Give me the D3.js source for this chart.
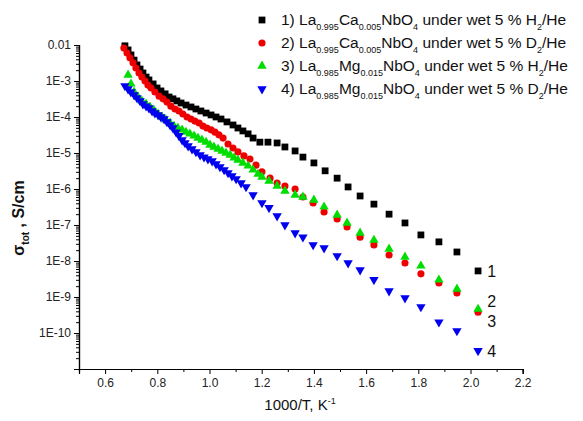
<!DOCTYPE html>
<html><head><meta charset="utf-8">
<script src="https://cdn.jsdelivr.net/npm/d3@7"></script>
<style>
body{margin:0;background:#fff;}
svg{display:block;font-family:"Liberation Sans",Arial,sans-serif;}
</style></head>
<body><svg id="c" width="583" height="421"></svg>
<script>
// 1000/T (K^-1) and total conductivity (S/cm)
const x1 = [0.676,0.688,0.699,0.711,0.722,0.734,0.745,0.757,0.768,0.784,0.799,0.814,0.830,0.845,0.860,0.875,0.891,0.910,0.929,0.948,0.967,0.987,1.006,1.025,1.044,1.067,1.090,1.109,1.128,1.148,1.167,1.193,1.224,1.259,1.289,1.328,1.358,1.400,1.443,1.489,1.531,1.577,1.630,1.688,1.749,1.810,1.879,1.948,2.029];
const y1 = [9.5e-3,7.3e-3,5.3e-3,3.8e-3,2.8e-3,2.15e-3,1.67e-3,1.29e-3,1.07e-3,8.3e-4,6.4e-4,5.3e-4,4.4e-4,3.6e-4,3.2e-4,2.8e-4,2.45e-4,2.15e-4,1.9e-4,1.67e-4,1.47e-4,1.29e-4,1.14e-4,1.0e-4,8.8e-5,7.3e-5,6.0e-5,4.95e-5,4.1e-5,3.4e-5,2.6e-5,2.0e-5,2.0e-5,1.9e-5,1.47e-5,1.14e-5,7.7e-6,5.3e-6,3.2e-6,2.0e-6,1.14e-6,6.4e-7,3.8e-7,2.0e-7,1.14e-7,5.3e-8,3.4e-8,1.78e-8,5.3e-9];

const x2 = [0.672,0.684,0.695,0.707,0.718,0.730,0.741,0.753,0.764,0.776,0.791,0.807,0.822,0.837,0.852,0.868,0.883,0.898,0.914,0.929,0.944,0.960,0.975,0.990,1.006,1.021,1.036,1.052,1.071,1.090,1.109,1.132,1.155,1.178,1.201,1.232,1.259,1.289,1.328,1.358,1.397,1.439,1.489,1.527,1.577,1.630,1.688,1.749,1.810,1.879,1.948,2.029];
const y2 = [8.2e-3,6.0e-3,4.4e-3,3.2e-3,2.3e-3,1.67e-3,1.29e-3,1.0e-3,7.7e-4,6.4e-4,4.95e-4,3.8e-4,3.2e-4,2.6e-4,2.0e-4,1.67e-4,1.47e-4,1.21e-4,1.0e-4,8.8e-5,7.7e-5,6.8e-5,5.6e-5,4.95e-5,4.4e-5,3.8e-5,3.2e-5,2.6e-5,1.78e-5,1.38e-5,1.07e-5,8.3e-6,6.8e-6,4.6e-6,3.0e-6,2.0e-6,1.47e-6,1.21e-6,1.0e-6,6.0e-7,4.1e-7,2.3e-7,1.47e-7,8.8e-8,4.6e-8,2.8e-8,1.47e-8,8.8e-9,4.4e-9,2.45e-9,1.29e-9,3.8e-10];

const x3 = [0.688,0.699,0.711,0.726,0.741,0.757,0.772,0.787,0.803,0.818,0.833,0.849,0.864,0.879,0.895,0.910,0.925,0.941,0.956,0.971,0.987,1.002,1.017,1.033,1.048,1.063,1.079,1.094,1.109,1.128,1.148,1.167,1.186,1.201,1.228,1.259,1.289,1.328,1.358,1.400,1.439,1.489,1.527,1.577,1.630,1.688,1.749,1.810,1.879,1.948,2.029];
const y3 = [1.47e-3,8.3e-4,4.95e-4,3.6e-4,2.8e-4,2.3e-4,1.9e-4,1.56e-4,1.21e-4,1.0e-4,8.3e-5,6.8e-5,5.6e-5,4.95e-5,4.4e-5,3.8e-5,3.4e-5,3.0e-5,2.6e-5,2.3e-5,2.0e-5,1.67e-5,1.47e-5,1.29e-5,1.14e-5,1.0e-5,8.8e-6,7.3e-6,6.4e-6,5.3e-6,4.4e-6,3.4e-6,2.6e-6,2.15e-6,1.67e-6,1.21e-6,8.8e-7,6.8e-7,6.0e-7,4.95e-7,3.2e-7,1.9e-7,1.14e-7,6.0e-8,3.8e-8,2.15e-8,1.29e-8,7.3e-9,3.0e-9,1.67e-9,4.6e-10];

const x4 = [0.676,0.688,0.699,0.711,0.722,0.734,0.745,0.757,0.768,0.780,0.791,0.803,0.814,0.826,0.837,0.849,0.860,0.872,0.883,0.895,0.906,0.918,0.933,0.948,0.964,0.979,0.994,1.010,1.025,1.040,1.056,1.071,1.086,1.102,1.121,1.140,1.167,1.201,1.228,1.259,1.289,1.328,1.358,1.397,1.439,1.489,1.531,1.577,1.630,1.688,1.749,1.810,1.879,1.948,2.029];
const y4 = [7.3e-4,6.0e-4,4.95e-4,4.1e-4,3.4e-4,2.8e-4,2.3e-4,2.0e-4,1.78e-4,1.47e-4,1.29e-4,1.14e-4,1.0e-4,8.8e-5,7.3e-5,6.0e-5,4.95e-5,3.8e-5,3.0e-5,2.3e-5,1.9e-5,1.56e-5,1.29e-5,1.07e-5,8.8e-6,7.7e-6,6.8e-6,6.0e-6,4.95e-6,4.1e-6,3.4e-6,2.8e-6,2.3e-6,1.9e-6,1.47e-6,1.14e-6,6.8e-7,4.1e-7,3.0e-7,1.78e-7,1.0e-7,6.0e-8,4.6e-8,2.8e-8,2.3e-8,1.38e-8,8.8e-9,5.6e-9,3.0e-9,1.47e-9,9.4e-10,5.3e-10,2.0e-10,1.14e-10,3.2e-11];

const xTicks = [0.6,0.8,1.0,1.2,1.4,1.6,1.8,2.0,2.2];
const xMinor = [0.5,0.7,0.9,1.1,1.3,1.5,1.7,1.9,2.1];
const yTicks = [1e-2,1e-3,1e-4,1e-5,1e-6,1e-7,1e-8,1e-9,1e-10,1e-11];
const yTickLabels = ["0.01","1E-3","1E-4","1E-5","1E-6","1E-7","1E-8","1E-9","1E-10",""];
const seriesNames = ["1","2","3","4"];
const seriesColors = ["#000000","#ee0000","#00dd00","#0000ee"];
const curveLabels = ["1","2","3","4"];

const svg = d3.select("#c");
const x = d3.scaleLinear().domain([0.5,2.2]).range([79,522.7]);
const y = d3.scaleLog().domain([1e-11,1e-2]).range([369,45]);

// y minor ticks
const yMinor = [];
for (let e=-11; e<-2; e++) for (let m=2; m<=9; m++) yMinor.push(m*Math.pow(10,e));

const gx = svg.append("g").attr("transform","translate(0,369)");
gx.call(d3.axisBottom(x).tickValues(xMinor).tickSize(3).tickFormat(""));
gx.call(g=>{});
const gx2 = svg.append("g").attr("transform","translate(0,369)")
  .call(d3.axisBottom(x).tickValues(xTicks).tickSize(5).tickPadding(4).tickFormat(d3.format(".1f")));
const gy = svg.append("g").attr("transform","translate(79,0)")
  .call(d3.axisLeft(y).tickValues(yMinor).tickSize(3).tickFormat(""));
const gy2 = svg.append("g").attr("transform","translate(79,0)")
  .call(d3.axisLeft(y).tickValues(yTicks).tickSize(5).tickPadding(3).tickFormat((d,i)=>yTickLabels[i]));
svg.selectAll(".domain").attr("stroke","#000").attr("stroke-width",1.2);
svg.selectAll(".tick line").attr("stroke","#000");
svg.selectAll(".tick text").attr("font-size",12).attr("fill","#222").attr("font-family","Liberation Sans, Arial, sans-serif");

const sym = [
  d3.symbol().type(d3.symbolSquare).size(46),
  d3.symbol().type(d3.symbolCircle).size(40),
  d3.symbol().type(d3.symbolTriangle).size(38),
  d3.symbol().type(d3.symbolTriangle).size(38)
];
const rot = [0,0,0,180];
const xs = [x1,x2,x3,x4], ys=[y1,y2,y3,y4];
xs.forEach((xa,si)=>{
  const data = xa.map((v,i)=>[v,ys[si][i]]);
  svg.append("g").selectAll("path").data(data).join("path")
    .attr("d",sym[si]())
    .attr("fill",seriesColors[si])
    .attr("transform",d=>`translate(${x(d[0])},${y(d[1])}) rotate(${rot[si]})`);
});

// curve number labels near last points
const lastX = 2.03;
const labY = [5.3e-9, 7.5e-10, 2.2e-10, 3.2e-11];
curveLabels.forEach((t,i)=>{
  svg.append("text").attr("x",x(lastX)+9).attr("y",y(labY[i])+6)
    .attr("font-size",16).attr("fill","#111").text(t);
});

// legend
const legRows = [
  ["1) La","0.995","Ca","0.005","NbO","4"," under wet 5 % H","2","/He"],
  ["2) La","0.995","Ca","0.005","NbO","4"," under wet 5 % D","2","/He"],
  ["3) La","0.985","Mg","0.015","NbO","4"," under wet 5 % H","2","/He"],
  ["4) La","0.985","Mg","0.015","NbO","4"," under wet 5 % D","2","/He"]
];
const legY = [20,43,66,89];
legRows.forEach((parts,i)=>{
  svg.append("path").attr("d",sym[i]()).attr("fill",seriesColors[i])
    .attr("transform",`translate(262,${legY[i]}) rotate(${rot[i]})`);
  const t = svg.append("text").attr("x",281).attr("y",legY[i]+5).attr("font-size",15.5).attr("fill","#111");
  parts.forEach((p,k)=>{
    const sub = k%2===1;
    t.append("tspan").attr("font-size",sub?9:15.5)
      .attr("dy", sub?5:(k>0?-5:0)).text(p);
  });
});

// axis titles
const xt = svg.append("text").attr("x",300).attr("y",410).attr("text-anchor","middle").attr("font-size",15).attr("fill","#111");
xt.append("tspan").text("1000/T, K");
xt.append("tspan").attr("font-size",9).attr("dy",-6).text("-1");

const yt = svg.append("text").attr("transform","translate(24,218) rotate(-90)").attr("text-anchor","middle")
  .attr("font-size",16).attr("font-weight","bold").attr("fill","#111");
yt.append("tspan").text("σ");
yt.append("tspan").attr("font-size",10).attr("dy",5).text("tot");
yt.append("tspan").attr("dy",-5).text(" , S/cm");
</script></body></html>
